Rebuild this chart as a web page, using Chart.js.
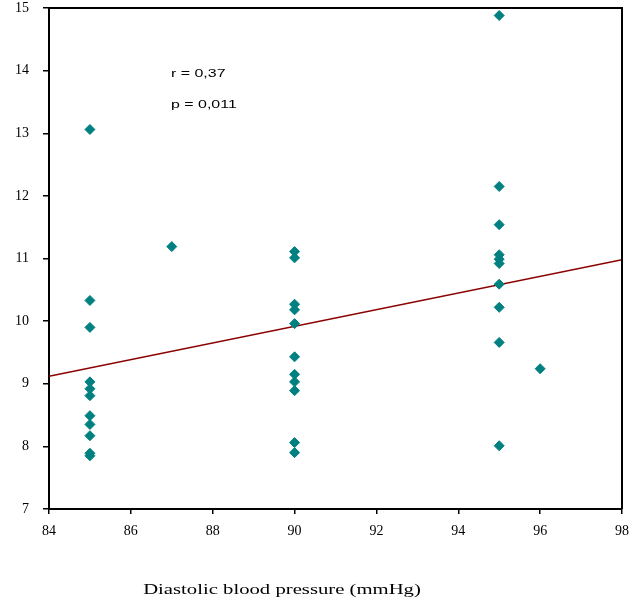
<!DOCTYPE html>
<html>
<head>
<meta charset="utf-8">
<script src="https://cdn.jsdelivr.net/npm/chart.js@4/dist/chart.umd.min.js"></script>
<style>
  html, body { margin: 0; padding: 0; background: #fff; }
  canvas { display: block; }
</style>
</head>
<body>
<canvas id="scatter" width="629" height="605"></canvas>
<script>
// diastolic pressure (mmHg) of each subject, and the measured value
const pressure = [
    85, 85, 85, 85, 85, 85, 85, 85, 85, 85, 85,
    87,
    90, 90, 90, 90, 90, 90, 90, 90, 90, 90, 90,
    95, 95, 95, 95, 95, 95, 95, 95, 95, 95,
    96
];
const measured = [
    13.06, 10.33, 9.90, 9.03, 8.92, 8.81, 8.49, 8.35, 8.17, 7.89, 7.85,
    11.19,
    11.11, 11.01, 10.27, 10.18, 9.96, 9.43, 9.15, 9.03, 8.89, 8.06, 7.90,
    14.88, 12.15, 11.54, 11.06, 10.99, 10.92, 10.59, 10.22, 9.66, 8.01,
    9.24
];

// regression line end points
const fitX = [84, 98];
const fitY = [9.12, 10.98];

const xTitle = 'Diastolic blood pressure (mmHg)';
const statLines = ['r = 0,37', 'p = 0,011'];

const serif = "'Liberation Serif', 'Times New Roman', serif";
const sans = "'Liberation Sans', Arial, sans-serif";

function drawStretched(ctx, text, x, y, scaleX, align) {
    ctx.save();
    ctx.translate(x, y);
    ctx.scale(scaleX, 1);
    ctx.textAlign = align;
    ctx.textBaseline = 'middle';
    ctx.fillText(text, 0, 0);
    ctx.restore();
}

const framePlugin = {
    id: 'frame',
    afterDatasetsDraw(chart) {
        const ctx = chart.ctx;
        const area = chart.chartArea;

        ctx.save();
        ctx.strokeStyle = '#000';
        ctx.lineWidth = 2;
        ctx.beginPath();
        ctx.moveTo(area.left, area.top);
        ctx.lineTo(area.right, area.top);
        ctx.lineTo(area.right, area.bottom);
        ctx.stroke();

        ctx.fillStyle = '#000';
        ctx.font = '11px ' + sans;
        statLines.forEach((line, i) => {
            drawStretched(ctx, line, area.left + 122, area.top + 66 + i * 31, 1.45, 'left');
        });

        ctx.font = '15px ' + serif;
        drawStretched(ctx, xTitle, 282, 590, 1.38, 'center');
        ctx.restore();
    }
};

const points = pressure.map((p, i) => ({ x: p, y: measured[i] }));
const fitLine = fitX.map((x, i) => ({ x: x, y: fitY[i] }));

new Chart(document.getElementById('scatter'), {
    type: 'scatter',
    data: {
        datasets: [
            {
                type: 'line',
                data: fitLine,
                borderColor: '#8b0000',
                borderWidth: 1.6,
                pointRadius: 0,
                fill: false,
                order: 2
            },
            {
                data: points,
                pointStyle: 'rectRot',
                pointRadius: 5,
                pointBackgroundColor: '#008080',
                pointBorderColor: '#008080',
                pointBorderWidth: 1,
                order: 1
            }
        ]
    },
    options: {
        responsive: false,
        animation: false,
        events: [],
        layout: {
            padding: { top: 8, right: 7, left: 0, bottom: 0 }
        },
        plugins: {
            legend: { display: false },
            tooltip: { enabled: false }
        },
        scales: {
            x: {
                type: 'linear',
                min: 84,
                max: 98,
                ticks: {
                    stepSize: 2,
                    color: '#000',
                    padding: 9,
                    font: { family: serif, size: 14 }
                },
                grid: {
                    drawOnChartArea: false,
                    tickLength: 5,
                    color: '#000',
                    lineWidth: 1.5
                },
                border: { color: '#000', width: 2 },
                afterFit(scale) {
                    scale.height = 96;
                    scale.paddingLeft = 0;
                    scale.paddingRight = 0;
                }
            },
            y: {
                min: 7,
                max: 15,
                ticks: {
                    stepSize: 1,
                    color: '#000',
                    padding: 14,
                    font: { family: serif, size: 14 }
                },
                grid: {
                    drawOnChartArea: false,
                    tickLength: 6,
                    color: '#000',
                    lineWidth: 1.5
                },
                border: { color: '#000', width: 2 },
                afterFit(scale) {
                    scale.width = 49;
                    scale.paddingTop = 0;
                    scale.paddingBottom = 0;
                }
            }
        }
    },
    plugins: [framePlugin]
});
</script>
</body>
</html>
